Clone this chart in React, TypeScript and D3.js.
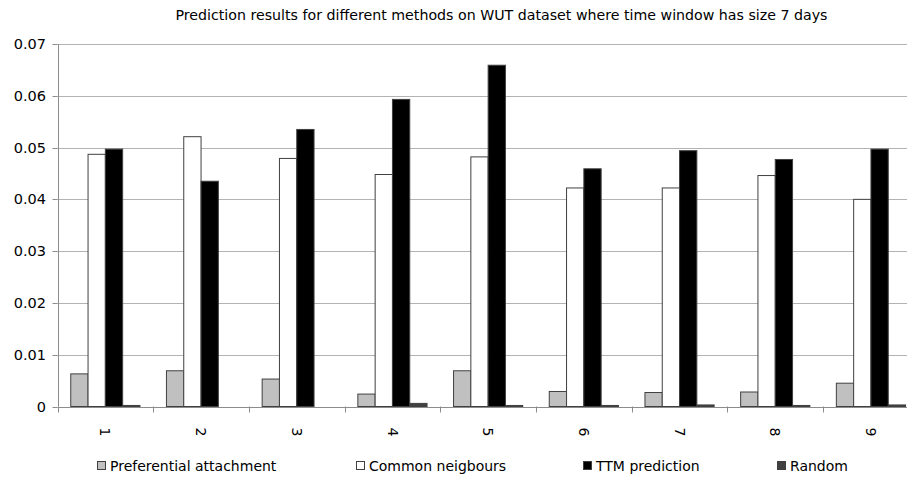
import React from "react";
import * as d3 from "d3";

const categories = ["1", "2", "3", "4", "5", "6", "7", "8", "9"];
const seriesNames = ["Preferential attachment", "Common neigbours", "TTM prediction", "Random"];
const preferential = [0.0063, 0.0069, 0.0053, 0.0024, 0.0069, 0.0029, 0.0027, 0.0028, 0.0045];
const common = [0.0487, 0.0521, 0.0479, 0.0448, 0.0482, 0.0422, 0.0422, 0.0446, 0.0400];
const ttm = [0.0497, 0.0435, 0.0535, 0.0593, 0.0659, 0.0459, 0.0494, 0.0477, 0.0497];
const random = [0.0002, 0, 0, 0.0006, 0.0002, 0.0002, 0.0003, 0.0002, 0.0003];
const yTicks = [0, 0.01, 0.02, 0.03, 0.04, 0.05, 0.06, 0.07];
const title = "Prediction results for different methods on WUT dataset where time window has size 7 days";

const seriesValues = [preferential, common, ttm, random];
const fills = ["#c0c0c0", "#ffffff", "#000000", "#404040"];

const W = 907;
const H = 478;
const left = 57.5;
const right = 918.8;
const top = 44;
const bottom = 406.5;
const font = "Verdana, 'DejaVu Sans', sans-serif";

export default function App() {
  const x0 = d3.scaleBand<string>().domain(categories).range([left, right]).paddingInner(0).paddingOuter(0);
  const x1 = d3.scaleBand<string>().domain(seriesNames).range([0, x0.bandwidth()]).paddingInner(0).paddingOuter(0.766);
  const y = d3.scaleLinear().domain([0, 0.07]).range([bottom, top]);

  const legendX = [97, 356, 583, 777];

  return (
    <svg width={W} height={H} style={{ position: "absolute", left: 0, top: 0, background: "#fff" }}>
      <rect x={0} y={0} width={W} height={H} fill="#fff" />
      <text x={501.5} y={20} textAnchor="middle" fontFamily={font} fontSize={14.2} fill="#000">
        {title}
      </text>
      {yTicks.map((t) => (
        <g key={t}>
          {t > 0 && (
            <line x1={left} x2={W} y1={Math.round(y(t)) + 0.5} y2={Math.round(y(t)) + 0.5} stroke="#b3b3b3" strokeWidth={1} />
          )}
          <line x1={left - 5} x2={left} y1={Math.round(y(t)) + 0.5} y2={Math.round(y(t)) + 0.5} stroke="#8c8c8c" />
          <text x={46} y={y(t)} dy="0.35em" textAnchor="end" fontFamily={font} fontSize={14.5} fill="#000">
            {t === 0 ? "0" : d3.format(".2f")(t)}
          </text>
        </g>
      ))}
      {categories.map((c, i) => (
        <g key={c}>
          {seriesNames.map((s, j) => {
            const v = seriesValues[j][i];
            const h = bottom - y(v);
            if (v <= 0) return null;
            return (
              <rect
                key={s}
                x={(x0(c) as number) + (x1(s) as number)}
                y={y(v)}
                width={x1.bandwidth()}
                height={h}
                fill={fills[j]}
                stroke="#404040"
                strokeWidth={1}
              />
            );
          })}
          <text
            transform={`translate(${(x0(c) as number) + x0.bandwidth() / 2},${432}) rotate(90)`}
            textAnchor="middle"
            dy="0.35em"
            fontFamily={font}
            fontSize={14}
            fill="#000"
          >
            {c}
          </text>
        </g>
      ))}
      {categories.map((c) => (
        <line key={"t" + c} x1={Math.round(x0(c) as number) + 0.5} x2={Math.round(x0(c) as number) + 0.5} y1={bottom} y2={bottom + 6} stroke="#8c8c8c" />
      ))}
      <line x1={left} x2={W} y1={Math.round(bottom) + 0.5} y2={Math.round(bottom) + 0.5} stroke="#8c8c8c" />
      <line x1={Math.round(left) + 0.5} x2={Math.round(left) + 0.5} y1={top} y2={bottom} stroke="#8c8c8c" />
      {seriesNames.map((s, j) => (
        <g key={s} transform={`translate(${legendX[j]},461)`}>
          <rect x={0.5} y={0.5} width={8} height={8} fill={fills[j]} stroke="#404040" />
          <text x={13} y={5} dy="0.35em" fontFamily={font} fontSize={14} fill="#000">
            {s}
          </text>
        </g>
      ))}
    </svg>
  );
}
